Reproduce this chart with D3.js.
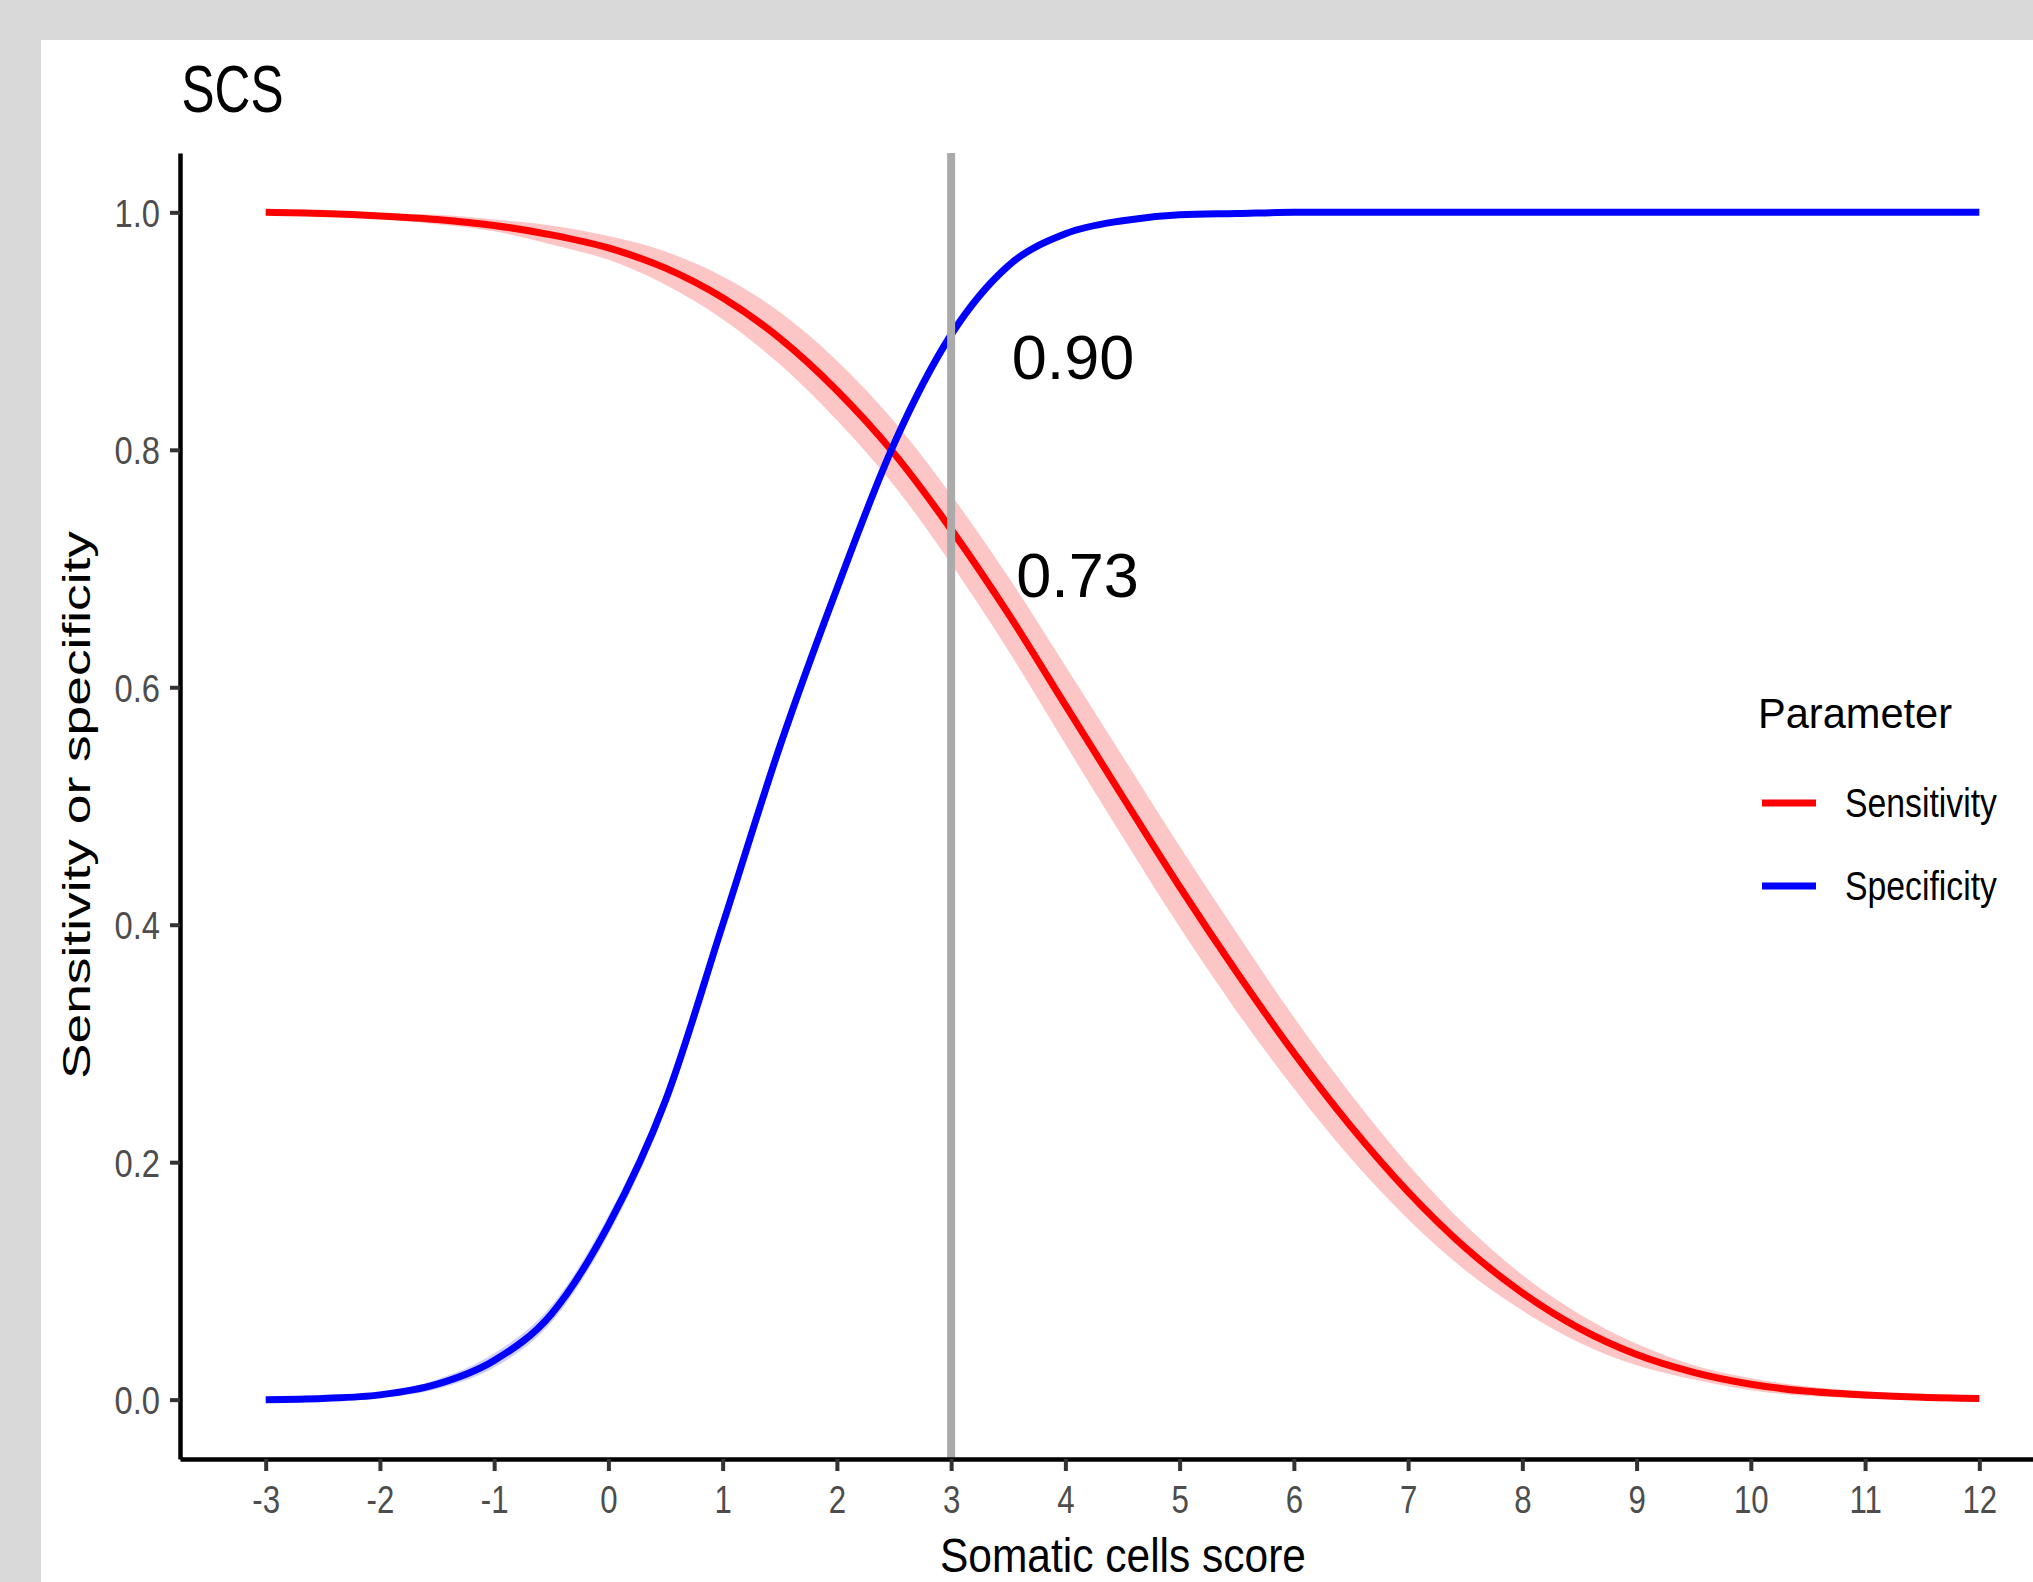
<!DOCTYPE html>
<html>
<head>
<meta charset="utf-8">
<script src="https://cdn.jsdelivr.net/npm/d3@7"></script>
<style>
html, body { margin: 0; padding: 0; background: #d9d9d9; }
svg { display: block; }
text { font-family: "Liberation Sans", Arial, Helvetica, sans-serif; }
</style>
</head>
<body>
<svg id="chart" width="2033" height="1582"></svg>
<script>
// ---------------- DATA ----------------
const scoreValues = [-3, -2.5, -2, -1.5, -1, -0.5, 0, 0.5, 1, 1.5, 2, 2.5, 3, 3.5, 4, 4.5, 5, 5.5, 6, 6.5, 7, 7.5, 8, 8.5, 9, 9.5, 10, 10.5, 11, 11.5, 12];

const sensitivity = [1.000, 0.999, 0.997, 0.994, 0.989, 0.981, 0.970, 0.953, 0.928, 0.894, 0.850, 0.797, 0.733, 0.662, 0.585, 0.508, 0.432, 0.360, 0.292, 0.230, 0.175, 0.128, 0.090, 0.060, 0.038, 0.023, 0.013, 0.007, 0.004, 0.002, 0.001];
const sensLower   = [1.000, 0.998, 0.995, 0.990, 0.984, 0.973, 0.960, 0.939, 0.910, 0.872, 0.825, 0.770, 0.704, 0.631, 0.552, 0.474, 0.398, 0.327, 0.262, 0.203, 0.152, 0.109, 0.075, 0.048, 0.029, 0.017, 0.008, 0.003, 0.001, 0.000, 0.000];
const sensUpper   = [1.000, 1.000, 0.999, 0.998, 0.994, 0.989, 0.980, 0.967, 0.946, 0.916, 0.875, 0.824, 0.762, 0.693, 0.618, 0.542, 0.466, 0.393, 0.322, 0.257, 0.198, 0.147, 0.105, 0.072, 0.047, 0.029, 0.018, 0.011, 0.007, 0.004, 0.002];

const specificity = [0.000, 0.001, 0.004, 0.013, 0.033, 0.072, 0.147, 0.252, 0.400, 0.550, 0.683, 0.805, 0.897, 0.955, 0.982, 0.993, 0.998, 0.999, 1.000, 1.000, 1.000, 1.000, 1.000, 1.000, 1.000, 1.000, 1.000, 1.000, 1.000, 1.000, 1.000];
const specLower   = [0.000, 0.000, 0.002, 0.009, 0.027, 0.065, 0.139, 0.244, 0.392, 0.542, 0.676, 0.798, 0.891, 0.951, 0.979, 0.991, 0.997, 0.999, 1.000, 1.000, 1.000, 1.000, 1.000, 1.000, 1.000, 1.000, 1.000, 1.000, 1.000, 1.000, 1.000];
const specUpper   = [0.001, 0.002, 0.006, 0.017, 0.039, 0.079, 0.155, 0.260, 0.408, 0.558, 0.690, 0.812, 0.903, 0.959, 0.985, 0.995, 0.999, 1.000, 1.000, 1.000, 1.000, 1.000, 1.000, 1.000, 1.000, 1.000, 1.000, 1.000, 1.000, 1.000, 1.000];

const seriesNames = ["Sensitivity", "Specificity"];
const seriesColors = ["#ff0000", "#0000ff"];
const ribbonColors = ["#fcc6c6", "#d0d0ff"];

const xTickValues = [-3, -2, -1, 0, 1, 2, 3, 4, 5, 6, 7, 8, 9, 10, 11, 12];
const xTickLabels = ["-3", "-2", "-1", "0", "1", "2", "3", "4", "5", "6", "7", "8", "9", "10", "11", "12"];
const yTickValues = [0.0, 0.2, 0.4, 0.6, 0.8, 1.0];
const yTickLabels = ["0.0", "0.2", "0.4", "0.6", "0.8", "1.0"];

const cutoff = 3;
const annotationLabels = ["0.90", "0.73"];
const annotationX = [3.53, 3.57];
const annotationY = [0.860, 0.676];

const titleText = "SCS";
const xTitle = "Somatic cells score";
const yTitle = "Sensitivity or specificity";
const legendTitle = "Parameter";

// ---------------- CHART ----------------
const svg = d3.select("#chart");

svg.append("rect").attr("x", 41).attr("y", 40).attr("width", 2033 - 41).attr("height", 1582 - 40).attr("fill", "#ffffff");

const x = d3.scaleLinear().domain([-3.75, 12.75]).range([180, 2065]);
const y = d3.scaleLinear().domain([-0.05, 1.05]).range([1459, 153]);

const rows = scoreValues.map((s, i) => ({
  s,
  sens: sensitivity[i], sLo: sensLower[i], sHi: sensUpper[i],
  spec: specificity[i], pLo: specLower[i], pHi: specUpper[i]
}));

const curve = d3.curveMonotoneX;

const area = (lo, hi) => d3.area().curve(curve).x(d => x(d.s)).y0(d => y(d[lo])).y1(d => y(d[hi]));
const line = key => d3.line().curve(curve).x(d => x(d.s)).y(d => y(d[key]));

const plot = svg.append("g");

plot.append("path").datum(rows).attr("d", area("sLo", "sHi")).attr("fill", ribbonColors[0]);
plot.append("path").datum(rows).attr("d", area("pLo", "pHi")).attr("fill", ribbonColors[1]);

plot.append("path").datum(rows).attr("d", line("sens"))
  .attr("fill", "none").attr("stroke", seriesColors[0]).attr("stroke-width", 7).attr("stroke-linejoin", "round");
plot.append("path").datum(rows).attr("d", line("spec"))
  .attr("fill", "none").attr("stroke", seriesColors[1]).attr("stroke-width", 7).attr("stroke-linejoin", "round");

// cutoff line
plot.append("line")
  .attr("x1", x(cutoff)).attr("x2", x(cutoff))
  .attr("y1", y.range()[1]).attr("y2", y.range()[0])
  .attr("stroke", "#aaaaaa").attr("stroke-width", 8);

// annotations
annotationLabels.forEach((lab, i) => {
  svg.append("text")
    .attr("x", x(annotationX[i])).attr("y", y(annotationY[i]))
    .attr("font-size", 63).attr("fill", "#000")
    .text(lab);
});

// axes
const yAxis = d3.axisLeft(y).tickValues(yTickValues)
  .tickFormat((d, i) => yTickLabels[i]).tickSize(10).tickSizeOuter(0);
const gy = svg.append("g").attr("transform", "translate(180,0)").call(yAxis);
gy.select(".domain").attr("stroke", "#000").attr("stroke-width", 4.5);
gy.selectAll(".tick line").attr("stroke", "#333").attr("stroke-width", 4);
gy.selectAll(".tick text")
  .attr("x", 0).attr("dy", null).attr("y", 0)
  .attr("transform", "translate(-20,14) scale(0.84,1)")
  .attr("font-size", 39).attr("fill", "#4d4d4d")
  .attr("font-family", "'Liberation Sans', Arial, sans-serif");

const xAxis = d3.axisBottom(x).tickValues(xTickValues)
  .tickFormat((d, i) => xTickLabels[i]).tickSize(12).tickSizeOuter(0);
const gx = svg.append("g").attr("transform", "translate(0,1459)").call(xAxis);
gx.select(".domain").attr("stroke", "#000").attr("stroke-width", 4.5);
gx.selectAll(".tick line").attr("stroke", "#333").attr("stroke-width", 4);
gx.selectAll(".tick text")
  .attr("y", 0).attr("dy", null)
  .attr("transform", "translate(0,54) scale(0.8,1)")
  .attr("font-size", 39).attr("fill", "#4d4d4d")
  .attr("font-family", "'Liberation Sans', Arial, sans-serif");

// titles (condensed via textLength)
function fitText(sel, len) {
  return sel.attr("textLength", len).attr("lengthAdjust", "spacingAndGlyphs");
}

fitText(svg.append("text").attr("x", 181.5).attr("y", 112).attr("font-size", 67).attr("fill", "#000").text(titleText), 102);

fitText(svg.append("text").attr("x", 940).attr("y", 1572).attr("font-size", 49).attr("fill", "#000").text(xTitle), 366);

fitText(svg.append("text")
  .attr("transform", "translate(90,1079) rotate(-90)")
  .attr("x", 0).attr("y", 0)
  .attr("font-size", 39).attr("fill", "#000").text(yTitle), 548);

// legend
const legend = svg.append("g");
fitText(legend.append("text").attr("x", 1758).attr("y", 728).attr("font-size", 43).attr("fill", "#000").text(legendTitle), 194);
const legendY = [803, 886];
seriesNames.forEach((name, i) => {
  legend.append("line").attr("x1", 1762).attr("x2", 1816).attr("y1", legendY[i]).attr("y2", legendY[i])
    .attr("stroke", seriesColors[i]).attr("stroke-width", 7);
  fitText(legend.append("text").attr("x", 1845).attr("y", legendY[i] + 14).attr("font-size", 40).attr("fill", "#000").text(name), 152);
});
</script>
</body>
</html>
